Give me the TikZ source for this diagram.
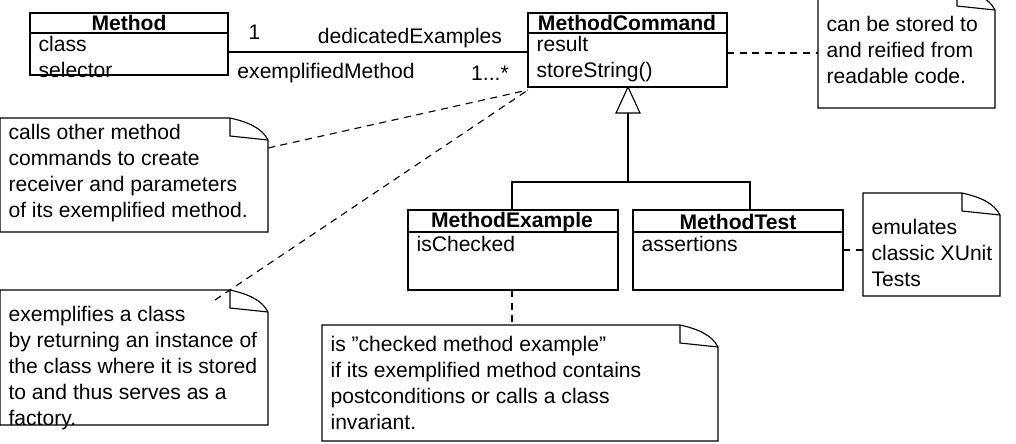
\documentclass[tikz,border=0pt]{standalone}
\usepackage{fontspec}
\setmainfont{Liberation Sans}
\begin{document}
\begin{tikzpicture}[x=0.025cm,y=-0.025cm,line width=0.8pt,
 txt/.style={anchor=north west,inner sep=0pt,font=\fontsize{15}{18.4}\selectfont,align=left},
 hdr/.style={anchor=center,inner sep=0pt,font=\fontsize{15}{17}\selectfont\bfseries},
 lbl/.style={inner sep=0pt,font=\fontsize{15}{17}\selectfont},
 dl/.style={dash pattern=on 5pt off 4pt}]
\useasboundingbox (0,0) rectangle (1016,443);
\newcommand{\mynote}[5]{% x1 y1 x2 y2 name
 \draw[fill=white] (#1,#2) -- (#3-38,#2) .. controls (#3-20,#2+4) and (#3-6,#2+10) .. (#3,#2+22) -- (#3,#4) -- (#1,#4) -- cycle;
 \draw (#3-38,#2) -- (#3-38,#2+18) -- (#3,#2+22);
 \coordinate (#5) at (#1,#2);}
% Method
\draw (30,13) rectangle (228,75); \draw (30,33) -- (228,33);
\node[hdr] (m) at (129,23) {Method};
\node[txt] (ma) at (38,36) {class\\selector};
\coordinate (mr) at (228,52);
% MethodCommand
\draw (528,13) rectangle (727,87); \draw (528,33) -- (727,33);
\node[hdr] (mc) at (627,23) {MethodCommand};
\node[txt] (mca) at (536,36) {result\\storeString()};
\coordinate (mcl) at (528,52);
\coordinate (mcr) at (727,53);
\coordinate (mcc) at (528,90);
\draw (mr) -- (mcl);
\node[lbl,anchor=west] (l1) at (248,32) {1};
\node[lbl] (l2) at (410,38) {dedicatedExamples};
\node[lbl] (l3) at (326,73) {exemplifiedMethod};
\node[lbl] (l4) at (490,73) {1...*};
% generalization
\coordinate (tri) at (628,87);
\draw[fill=white] (tri) -- (616,113) -- (640,113) -- cycle;
\coordinate (tb) at (628,113);
\draw (tb) -- (628,182);
\draw (512,210) -- (512,182) -- (750,182) -- (750,210);
% MethodExample
\draw (408,210) rectangle (618,290); \draw (408,232) -- (618,232);
\node[hdr] (me) at (512,222) {MethodExample};
\node[txt] (mea) at (416,236) {isChecked};
\coordinate (meb) at (512,290);
% MethodTest
\draw (633,210) rectangle (843,290); \draw (633,232) -- (843,232);
\node[hdr] (mt) at (738,222) {MethodTest};
\node[txt] (mta) at (641,236) {assertions};
\coordinate (mtr) at (843,250);
% notes
\mynote{818}{-12}{995}{108}{n1}
\node[txt] (t1) at (826,16) {can be stored to\\and reified from\\readable code.};
\draw[dl] (mcr) -- (818,53);
\mynote{863}{193}{1000}{296}{n2}
\node[txt] (t2) at (871,219) {emulates\\classic XUnit\\Tests};
\draw[dl] (mtr) -- (863,250);
\mynote{0}{118}{268}{232}{n3}
\node[txt] (t3) at (8,124) {calls other method\\commands to create\\receiver and parameters\\of its exemplified method.};
\draw[dl] (268,148) -- (mcc);
\mynote{0}{290}{268}{425}{n4}
\node[txt] (t4) at (8,306) {exemplifies a class\\by returning an instance of\\the class where it is stored\\to and thus serves as a\\factory.};
\draw[dl] (215,300) -- (mcc);
\mynote{322}{325}{718}{441}{n5}
\node[txt] (t5) at (330,336) {is \symbol{34}checked method example\symbol{34}\\if its exemplified method contains\\postconditions or calls a class\\invariant.};
\draw[dl] (meb) -- (512,325);
\end{tikzpicture}
\end{document}
